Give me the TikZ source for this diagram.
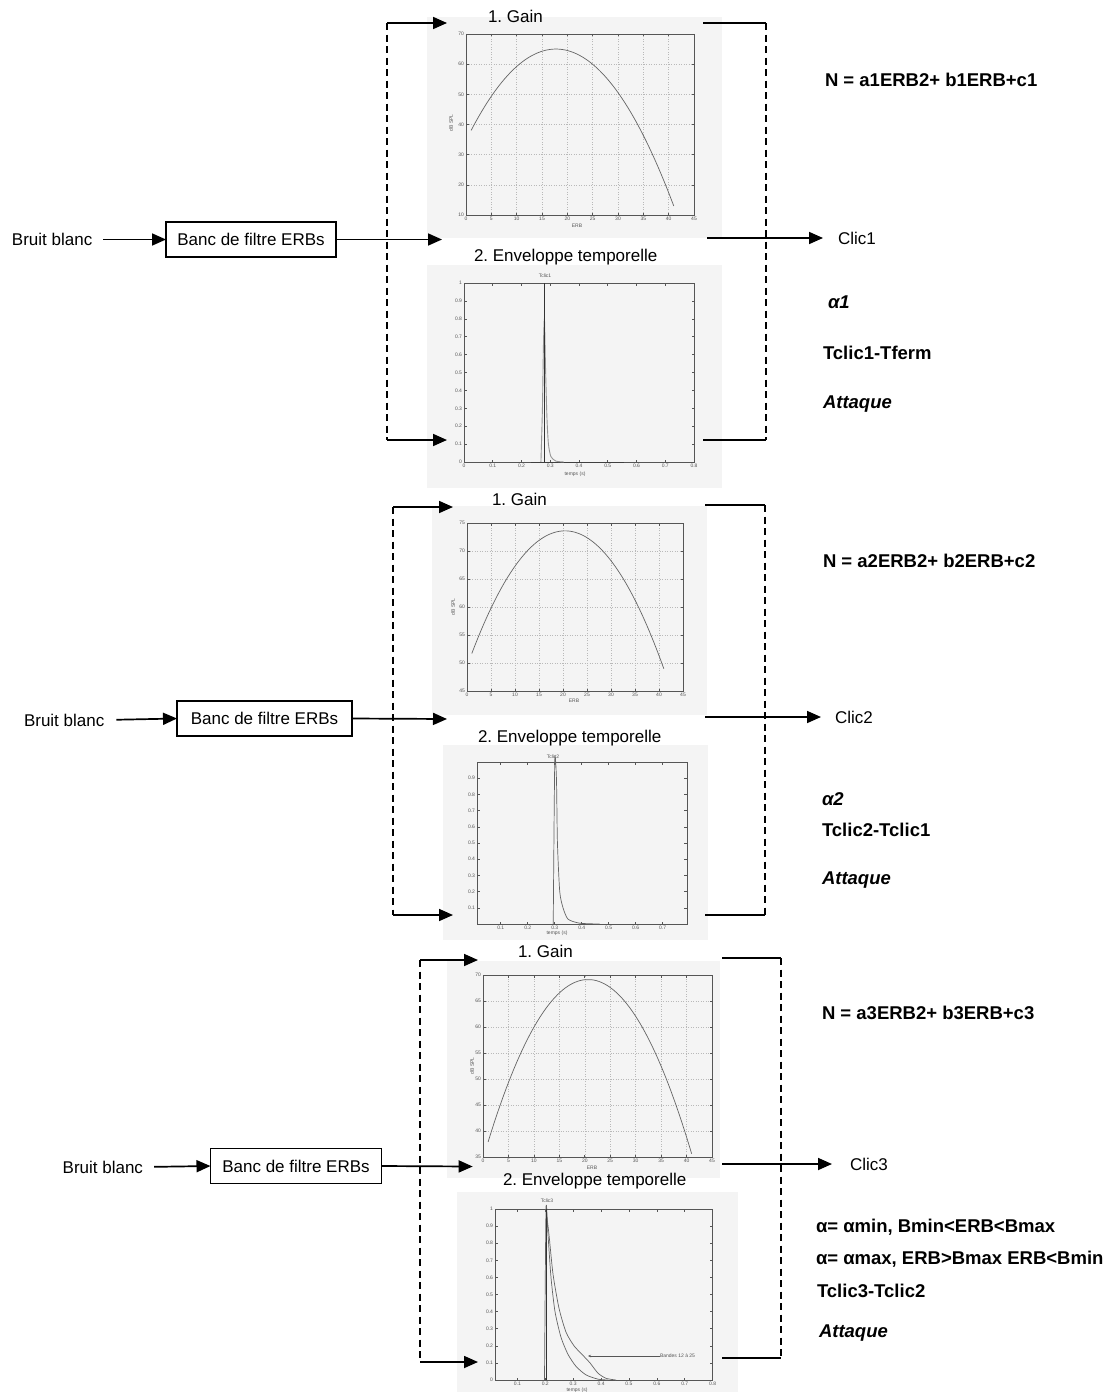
\documentclass[tikz,border=0pt]{standalone}
\usepackage{fontspec}
\setmainfont{Liberation Sans}
\usetikzlibrary{arrows.meta}
\frenchspacing
\definecolor{plotbg}{RGB}{244,244,244}
\definecolor{gridc}{RGB}{185,185,185}
\definecolor{axc}{RGB}{85,85,85}
\definecolor{curvec}{RGB}{100,100,100}
\definecolor{lightcurve}{RGB}{150,150,150}
\newcommand\MyXticks[3]{\foreach \v in {#1} {\draw[axl] (\v,#2) -- ++(0pt,2.5pt); \draw[axl] (\v,#3) -- ++(0pt,-2.5pt); \node[tk,below=2pt] at (\v,#2) {\v};}}
\newcommand\MyYticks[3]{\foreach \v in {#1} {\draw[axl] (#2,\v) -- ++(2.5pt,0pt); \draw[axl] (#3,\v) -- ++(-2.5pt,0pt); \node[tk,left=2pt] at (#2,\v) {\v};}}
\newcommand\MyXgrid[3]{\foreach \v in {#1} {\draw[gridl] (\v,#2) -- (\v,#3);}}
\newcommand\MyYgrid[3]{\foreach \v in {#1} {\draw[gridl] (#2,\v) -- (#3,\v);}}
\begin{document}
\begin{tikzpicture}[x=1pt,y=-1pt,
  every node/.style={inner sep=0pt, outer sep=0pt},
  lbl/.style={font=\fontsize{17}{20}\selectfont},
  boldlbl/.style={font=\fontsize{18.5}{22}\selectfont\bfseries, anchor=base west},
  bilbl/.style={font=\fontsize{18.5}{22}\selectfont\bfseries\itshape, anchor=base west},
  bankbox/.style={draw, line width=1.4pt, font=\fontsize{17}{20}\selectfont, minimum height=35pt},
  arr/.style={line width=1.7pt, -{Triangle[length=14pt,width=12pt]}},
  plainln/.style={line width=1.7pt},
  dashln/.style={line width=1.2pt, dash pattern=on 7pt off 4.5pt},
  bgbox/.style={fill=plotbg, draw=none, anchor=north west},
  gridl/.style={gridc, line width=0.5pt, dash pattern=on 1pt off 1.5pt},
  axl/.style={axc, line width=0.6pt},
  tk/.style={font=\fontsize{5}{6}\selectfont, text=axc},
  crv/.style={curvec, line width=0.7pt},
]
\useasboundingbox (0,0) rectangle (1113,1392);
\fill[white] (0,0) rectangle (1113,1392);

% ---------------- plot backgrounds ----------------
\node[bgbox, minimum width=295pt, minimum height=221pt] (g1) at (427,17) {};
\node[bgbox, minimum width=295pt, minimum height=223pt] (e1) at (427,265) {};
\node[bgbox, minimum width=275pt, minimum height=209pt] (g2) at (432,506) {};
\node[bgbox, minimum width=265pt, minimum height=195pt] (e2) at (443,745) {};
\node[bgbox, minimum width=273pt, minimum height=217pt] (g3) at (447,961) {};
\node[bgbox, minimum width=281pt, minimum height=200pt] (e3) at (457,1192) {};

% ---------------- G1 ----------------
\begin{scope}[shift={(466,215)}, x=5.0667pt, y=3.0167pt, shift={(0,-10)}]
  \MyXgrid{5,10,...,40}{10}{70}
  \MyYgrid{20,30,...,60}{0}{45}
  \draw[axl] (0,10) rectangle (45,70);
  \MyXticks{0,5,...,45}{10}{70}
  \MyYticks{10,20,...,70}{0}{45}
  \draw[crv] plot[domain=1:41, samples=80] (\x,{-0.09623*\x*\x+3.417*\x+34.68});
\end{scope}
\node[tk, rotate=90] (g1yl) at (451,123) {dB SPL};
\node[tk] (g1xl) at (577,226) {ERB};

% ---------------- E1 ----------------
\begin{scope}[shift={(464,462)}, x=287.5pt, y=179pt]
  \draw[axl] (0,0) rectangle (0.8,1);
  \MyXticks{0,0.1,0.2,0.3,0.4,0.5,0.6,0.7,0.8}{0}{1}
  \MyYticks{0,0.1,0.2,0.3,0.4,0.5,0.6,0.7,0.8,0.9,1}{0}{0.8}
  \draw[black!75, line width=0.7pt] (0.233,0) -- (0.557,0);
  \begin{scope}[shift={(0.278,0)}, x=1pt]
    \draw[lightcurve, line width=0.9pt] plot[smooth, tension=0.4] coordinates {(-3,0) (-1.5,0.3) (-0.5,0.65) (0.5,0.8) (1.5,0.55) (3,0.25) (4.5,0.1) (7,0.03) (12,0.005) (20,0)};
    \draw[black!80, line width=0.7pt] (0,0) -- (0,1);
  \end{scope}
\end{scope}
\node[tk] (e1ti) at (545,276) {Tclic1};
\node[tk] (e1xl) at (575,474) {temps (s)};

% ---------------- G2 ----------------
\begin{scope}[shift={(467,691)}, x=4.8pt, y=5.6pt, shift={(0,-45)}]
  \MyXgrid{5,10,...,40}{45}{75}
  \MyYgrid{50,55,...,70}{0}{45}
  \draw[axl] (0,45) rectangle (45,75);
  \MyXticks{0,5,...,45}{45}{75}
  \MyYticks{45,50,...,75}{0}{45}
  \draw[crv] plot[domain=1:41, samples=80] (\x,{-0.05809*\x*\x+2.372*\x+49.386});
\end{scope}
\node[tk, rotate=90] (g2yl) at (453,607) {dB SPL};
\node[tk] (g2xl) at (574,701) {ERB};

% ---------------- E2 ----------------
\begin{scope}[shift={(477,924)}, x=269.9pt, y=162pt, shift={(-0.012,0)}]
  \draw[axl] (0.012,0) rectangle (0.79,1);
  \MyXticks{0.1,0.2,0.3,0.4,0.5,0.6,0.7}{0}{1}
  \MyYticks{0.1,0.2,0.3,0.4,0.5,0.6,0.7,0.8,0.9}{0.012}{0.79}
  \begin{scope}[shift={(0.3,0)}, x=1pt]
    \draw[crv] plot[smooth, tension=0.4] coordinates {(-1.5,0) (0,1) (1.7,0.9) (2.7,0.5) (5,0.2) (8.3,0.1) (13.3,0.03) (25,0.005) (45,0)};
  \end{scope}
\end{scope}
\node[tk] (e2ti) at (553,757) {Tclic2};
\node[tk] (e2xl) at (557,933) {temps (s)};

% ---------------- G3 ----------------
\begin{scope}[shift={(483,1157)}, x=5.0889pt, y=5.2pt, shift={(0,-35)}]
  \MyXgrid{5,10,...,40}{35}{70}
  \MyYgrid{40,45,...,65}{0}{45}
  \draw[axl] (0,35) rectangle (45,70);
  \MyXticks{0,5,...,45}{35}{70}
  \MyYticks{35,40,...,70}{0}{45}
  \draw[crv] plot[domain=1:41, samples=80] (\x,{min(69.1,-0.0809*\x*\x+3.341*\x+34.64)});
\end{scope}
\node[tk, rotate=90] (g3yl) at (472,1066) {dB SPL};
\node[tk] (g3xl) at (592,1168) {ERB};

% ---------------- E3 ----------------
\begin{scope}[shift={(495,1380)}, x=279.1pt, y=171pt, shift={(-0.02,0)}]
  \draw[axl] (0.02,0) rectangle (0.8,1);
  \MyXticks{0.1,0.2,0.3,0.4,0.5,0.6,0.7,0.8}{0}{1}
  \MyYticks{0,0.1,0.2,0.3,0.4,0.5,0.6,0.7,0.8,0.9,1}{0.02}{0.8}
  \begin{scope}[shift={(0.2027,0)}, x=1pt]
    \draw[crv] plot[smooth, tension=0.4] coordinates {(-1.5,0) (0,1) (2,0.85) (5,0.6) (9,0.4) (15,0.25) (22,0.15) (30,0.08) (40,0.03) (52,0.005) (62,0)};
    \draw[crv] plot[smooth, tension=0.4] coordinates {(0,1) (3,0.85) (7,0.62) (13,0.42) (20,0.28) (28,0.2) (36,0.15) (44,0.1) (52,0.04) (60,0.01) (70,0)};
    \draw[black!80, line width=0.7pt] (0,0) -- (0,1);
  \end{scope}
\end{scope}
\node[tk] (e3ti) at (547,1201) {Tclic3};
\node[tk] (e3xl) at (577,1390) {temps (s)};
\node[tk, anchor=west] (bandes) at (660,1356) {Bandes 12 à 25};
\coordinate (bandtip) at (588,1356);
\draw[axc, line width=0.5pt, -{Stealth[length=3pt,width=2.5pt]}] (bandes.west) -- (bandtip);

% ---------------- Panel 1 ----------------
\node[lbl, anchor=base west] (g1t) at (488,22) {1. Gain};
\node[lbl, anchor=base west] (e1t) at (474,261) {2. Enveloppe temporelle};
\node[lbl, anchor=west] (bb1) at (12,239.5) {Bruit blanc};
\node[bankbox, minimum width=170pt] (bank1) at (251,239.5) {Banc de filtre ERBs};
\coordinate (in1) at (442,239.5);
\draw[arr, shorten <=11pt] (bb1.east) -- (bank1.west);
\draw[arr] (bank1.east) -- (in1);
\coordinate (c1s) at (707,238);
\node[lbl, anchor=west] (clic1) at (838,238) {Clic1};
\draw[arr, shorten >=15pt] (c1s) -- (clic1.west);
\coordinate (L1t) at (387,23); \coordinate (G1in) at (447,23);
\coordinate (L1b) at (387,440); \coordinate (E1in) at (447,440);
\draw[dashln] (L1t) -- (L1b);
\draw[arr] (L1t) -- (G1in);
\draw[arr] (L1b) -- (E1in);
\coordinate (R1a) at (703,23); \coordinate (R1t) at (766,23);
\coordinate (R1b) at (766,440); \coordinate (R1c) at (703,440);
\draw[plainln] (R1a) -- (R1t);
\draw[dashln] (R1t) -- (R1b);
\draw[plainln] (R1c) -- (R1b);
\node[boldlbl] (n1) at (825,86) {N = a1ERB2+ b1ERB+c1};
\node[bilbl] (a1) at (828,308) {α1};
\node[boldlbl] (t1) at (823,359) {Tclic1-Tferm};
\node[bilbl] (at1) at (823,408) {Attaque};

% ---------------- Panel 2 ----------------
\node[lbl, anchor=base west] (g2t) at (492,505) {1. Gain};
\node[lbl, anchor=base west] (e2t) at (478,742) {2. Enveloppe temporelle};
\node[lbl, anchor=west] (bb2) at (24,720) {Bruit blanc};
\node[bankbox, minimum width=175pt] (bank2) at (264.5,718.5) {Banc de filtre ERBs};
\coordinate (in2) at (447,719);
\draw[arr, shorten <=12pt] (bb2.east) -- (bank2.west);
\draw[arr] (bank2.east) -- (in2);
\coordinate (c2s) at (705,717);
\node[lbl, anchor=west] (clic2) at (835,717) {Clic2};
\draw[arr, shorten >=14pt] (c2s) -- (clic2.west);
\coordinate (L2t) at (393,507); \coordinate (G2in) at (453,507);
\coordinate (L2b) at (393,915); \coordinate (E2in) at (453,915);
\draw[dashln] (L2t) -- (L2b);
\draw[arr] (L2t) -- (G2in);
\draw[arr] (L2b) -- (E2in);
\coordinate (R2a) at (705,505); \coordinate (R2t) at (765,505);
\coordinate (R2b) at (765,915); \coordinate (R2c) at (705,915);
\draw[plainln] (R2a) -- (R2t);
\draw[dashln] (R2t) -- (R2b);
\draw[plainln] (R2c) -- (R2b);
\node[boldlbl] (n2) at (823,567) {N = a2ERB2+ b2ERB+c2};
\node[bilbl] (a2) at (822,805) {α2};
\node[boldlbl] (t2) at (822,836) {Tclic2-Tclic1};
\node[bilbl] (at2) at (822,884) {Attaque};

% ---------------- Panel 3 ----------------
\node[lbl, anchor=base west] (g3t) at (518,957) {1. Gain};
\node[lbl, anchor=base west] (e3t) at (503,1185) {2. Enveloppe temporelle};
\node[lbl, anchor=west] (bb3) at (62.7,1167) {Bruit blanc};
\node[bankbox, minimum width=171pt] (bank3) at (296,1166) {Banc de filtre ERBs};
\coordinate (in3) at (472.7,1166.5);
\draw[arr, shorten <=11pt] (bb3.east) -- (bank3.west);
\draw[arr] (bank3.east) -- (in3);
\coordinate (c3s) at (722,1164);
\node[lbl, anchor=west] (clic3) at (850,1164) {Clic3};
\draw[arr, shorten >=18pt] (c3s) -- (clic3.west);
\coordinate (L3t) at (420,960); \coordinate (G3in) at (478,960);
\coordinate (L3b) at (420,1362); \coordinate (E3in) at (478,1362);
\draw[dashln] (L3t) -- (L3b);
\draw[arr] (L3t) -- (G3in);
\draw[arr] (L3b) -- (E3in);
\coordinate (R3a) at (722,958); \coordinate (R3t) at (781,958);
\coordinate (R3b) at (781,1358); \coordinate (R3c) at (722,1358);
\draw[plainln] (R3a) -- (R3t);
\draw[dashln] (R3t) -- (R3b);
\draw[plainln] (R3c) -- (R3b);
\node[boldlbl] (n3) at (822,1019) {N = a3ERB2+ b3ERB+c3};
\node[boldlbl] (al3) at (816,1232) {α= αmin, Bmin<ERB<Bmax};
\node[boldlbl] (am3) at (816,1264) {α= αmax, ERB>Bmax ERB<Bmin};
\node[boldlbl] (t3) at (817,1297) {Tclic3-Tclic2};
\node[bilbl] (at3) at (819,1337) {Attaque};
\end{tikzpicture}
\end{document}
